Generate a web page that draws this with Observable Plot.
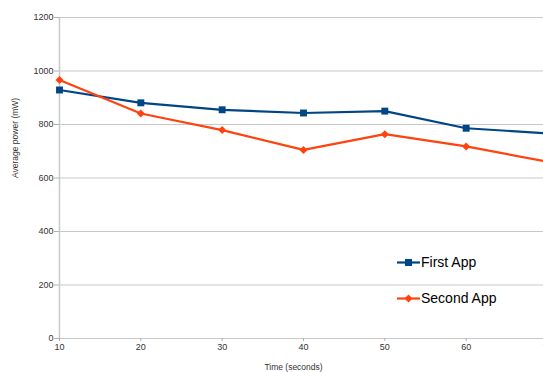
<!DOCTYPE html>
<html>
<head>
<meta charset="utf-8">
<script src="https://cdn.jsdelivr.net/npm/d3@7"></script>
<script src="https://cdn.jsdelivr.net/npm/@observablehq/plot@0.6"></script>
<style>
  html, body { margin: 0; padding: 0; background: #fff; }
  #wrap { position: relative; width: 543px; height: 372px; overflow: hidden; font-family: "Liberation Sans", Arial, sans-serif; }
  #chart { width: 560px; }
  #chart svg { max-width: none !important; width: 560px !important; height: 372px !important; display: block; }
  #legend { position: absolute; left: 397px; top: 252px; font-size: 14px; color: #000; }
  .item { position: absolute; left: 0; white-space: nowrap; height: 20px; line-height: 20px; }
  .item svg { position: absolute; left: 0; top: 0; }
  .item span { position: absolute; left: 24px; top: 0; }
</style>
</head>
<body>
<div id="wrap">
  <div id="chart"></div>
  <div id="legend"></div>
</div>
<script>
const times = [10, 20, 30, 40, 50, 60, 70];
const firstApp = [929, 881, 855, 843, 850, 786, 767];
const secondApp = [966, 841, 779, 705, 764, 718, 661];
const yTicks = [0, 200, 400, 600, 800, 1000, 1200];
const seriesNames = ["First App", "Second App"];
const seriesColors = ["#004586", "#ff420e"];
const yLabel = "Average power (mW)";
const xLabel = "Time (seconds)";

const first = times.map((t, i) => ({t, v: firstApp[i]}));
const second = times.map((t, i) => ({t, v: secondApp[i]}));

const chart = Plot.plot({
  width: 560,
  height: 372,
  marginLeft: 59,
  marginRight: 13,
  marginTop: 17,
  marginBottom: 34,
  style: {fontFamily: "Liberation Sans, Arial, sans-serif", fontSize: "9px", color: "#333", background: "#fff", maxWidth: "none"},
  x: {domain: [10, 70], ticks: times},
  y: {domain: [0, 1200], ticks: yTicks},
  marks: [
    Plot.gridY(yTicks, {stroke: "#c8c8c8", strokeOpacity: 1}),
    Plot.ruleX([10], {stroke: "#c8c8c8", strokeWidth: 1.5}),
    Plot.axisY(yTicks, {tickSize: 5, tickPadding: 1, stroke: "#b0b0b0", label: null, fill: "#333", tickFormat: d => String(d)}),
    Plot.axisX(times, {tickSize: 3, tickPadding: 2, stroke: "#b0b0b0", label: null, fill: "#333", tickFormat: d => String(d)}),
    Plot.text([yLabel], {frameAnchor: "left", rotate: -90, dx: -44, fontSize: 8.5, fill: "#333"}),
    Plot.text([xLabel], {frameAnchor: "bottom", dx: -10, dy: 31, fontSize: 8.5, fill: "#333"}),
    Plot.line(first, {x: "t", y: "v", stroke: seriesColors[0], strokeWidth: 2.2}),
    Plot.dot(first, {x: "t", y: "v", symbol: "square", r: 3.9, fill: seriesColors[0], stroke: "none"}),
    Plot.line(second, {x: "t", y: "v", stroke: seriesColors[1], strokeWidth: 2.2}),
    Plot.dot(second, {x: "t", y: "v", symbol: "diamond2", r: 3.6, fill: seriesColors[1], stroke: "none"})
  ]
});
document.getElementById("chart").appendChild(chart);

const legend = document.getElementById("legend");
seriesNames.forEach((name, i) => {
  const item = document.createElement("div");
  item.className = "item";
  item.style.top = (i * 36) + "px";
  const ns = "http://www.w3.org/2000/svg";
  const s = document.createElementNS(ns, "svg");
  s.setAttribute("width", "24"); s.setAttribute("height", "20");
  const ln = document.createElementNS(ns, "line");
  ln.setAttribute("x1", "0"); ln.setAttribute("x2", "23");
  ln.setAttribute("y1", "10.5"); ln.setAttribute("y2", "10.5");
  ln.setAttribute("stroke", seriesColors[i]); ln.setAttribute("stroke-width", "2.2");
  s.appendChild(ln);
  if (i === 0) {
    const r = document.createElementNS(ns, "rect");
    r.setAttribute("x", "8"); r.setAttribute("y", "7"); r.setAttribute("width", "7"); r.setAttribute("height", "7");
    r.setAttribute("fill", seriesColors[i]);
    s.appendChild(r);
  } else {
    const p = document.createElementNS(ns, "path");
    p.setAttribute("d", "M11.5 6.5 L15.5 10.5 L11.5 14.5 L7.5 10.5 Z");
    p.setAttribute("fill", seriesColors[i]);
    s.appendChild(p);
  }
  item.appendChild(s);
  const sp = document.createElement("span");
  sp.textContent = name;
  item.appendChild(sp);
  legend.appendChild(item);
});
</script>
</body>
</html>
